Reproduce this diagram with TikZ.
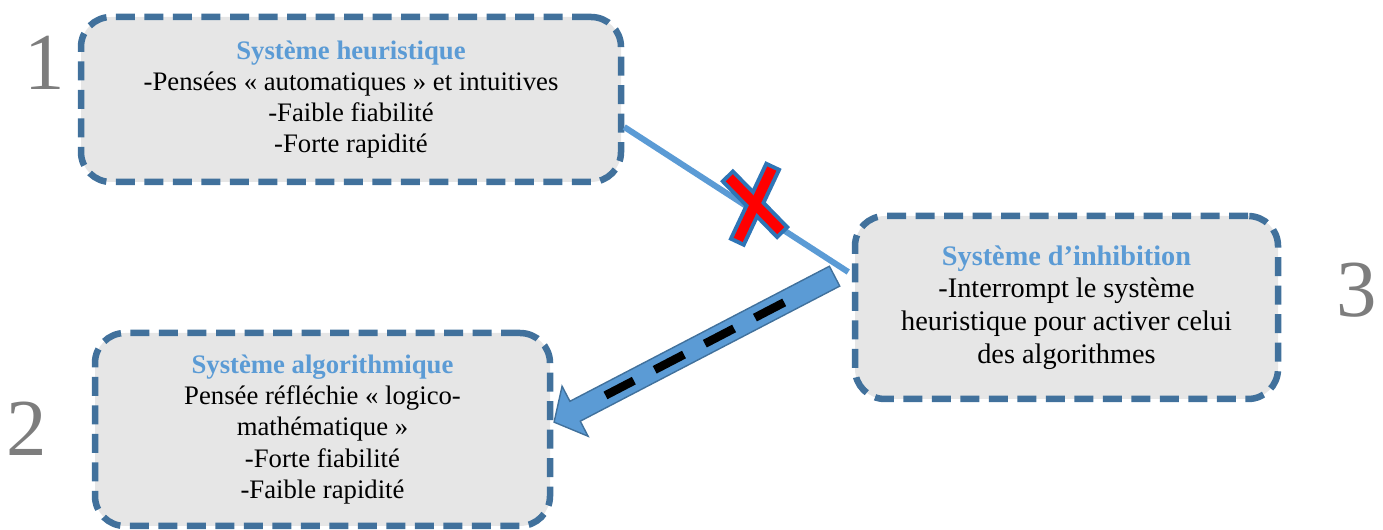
\documentclass[tikz,border=0pt]{standalone}
\usepackage{fontspec}
\setmainfont{Liberation Serif}
\usepackage{xcolor}
\usepackage{tikz}
\usetikzlibrary{shapes.arrows}
\usetikzlibrary{calc}

\definecolor{boxline}{RGB}{65,113,156}
\definecolor{boxfill}{RGB}{230,230,230}
\definecolor{titleblue}{RGB}{91,155,213}
\definecolor{crossline}{RGB}{46,117,182}
\definecolor{numgray}{RGB}{125,125,125}

\tikzset{
    sysbox/.style = {draw = boxline, fill = boxfill, line width = 0.13cm,
        dash pattern = on 0.38cm off 0.19cm, rounded corners = 0.6cm,
        align = center, inner sep = 0pt, font = \fontsize{15.2}{17.8}\selectfont},
    bigbox/.style = {sysbox, font = \fontsize{16.1}{18.6}\selectfont},
    sysnum/.style = {text = numgray, inner sep = 0pt, font = \fontsize{46}{46}\selectfont},
    flowarrow/.style = {single arrow, draw = boxline, fill = titleblue, line width = 0.8pt,
        inner sep = 0.21cm, single arrow head extend = 0.34cm,
        single arrow tip angle = 100, single arrow head indent = 0pt},
}
\newcommand{\systitle}[1]{{\bfseries\color{titleblue}#1}}

\begin{document}
\begin{tikzpicture}
        \useasboundingbox (0, 0) rectangle (27.66, 10.6);

        \node [sysbox, minimum width = 10.8cm, minimum height = 3.3cm] (heur) at (7.02, 8.61)
            {\systitle{Système heuristique}\\-Pensées « automatiques » et intuitives\\-Faible fiabilité\\-Forte rapidité};
        \node [sysbox, minimum width = 9.1cm, minimum height = 3.86cm] (algo) at (6.45, 2.01)
            {\systitle{Système algorithmique}\\Pensée réfléchie « logico-\\mathématique »\\-Forte fiabilité\\-Faible rapidité};
        \node [bigbox, minimum width = 8.46cm, minimum height = 3.66cm] (inhib) at (21.33, 4.45)
            {\systitle{Système d’inhibition}\\-Interrompt le système\\heuristique pour activer celui\\des algorithmes};

        \node [sysnum] (n1) at (0.9, 9.34) {1};
        \node [sysnum] (n2) at (0.54, 2.02) {2};
        \node [sysnum] (n3) at (27.14, 4.8) {3};

        % blocked link
        \coordinate (hOut) at ([yshift = -0.55cm]heur.east);
        \coordinate (iIn) at ([xshift = -0.07cm, yshift = 0.71cm]inhib.west);
        \draw [titleblue, line width = 0.12cm] (hOut) -- (iIn);

        \coordinate (xc) at (15.1, 6.5);
        \draw [crossline, line width = 0.36cm]
            ($(xc) + (-0.57, 0.6)$) -- ($(xc) + (0.57, -0.57)$)
            ($(xc) + (0.37, 0.8)$) -- ($(xc) + (-0.37, -0.77)$);
        \draw [red, line width = 0.2cm, shorten < = 0.08cm, shorten > = 0.08cm]
            ($(xc) + (-0.57, 0.6)$) -- ($(xc) + (0.57, -0.57)$);
        \draw [red, line width = 0.2cm, shorten < = 0.08cm, shorten > = 0.08cm]
            ($(xc) + (0.37, 0.8)$) -- ($(xc) + (-0.37, -0.77)$);

        % inhibition to algorithmic
        \coordinate (iOut) at ([xshift = -0.26cm, yshift = 0.67cm]inhib.west);
        \coordinate (aIn) at ([xshift = 0.1cm, yshift = 0.19cm]algo.east);
        \path let \p1 = ($(aIn) - (iOut)$), \n1 = {atan2(\y1, \x1)}, \n2 = {veclen(\x1, \y1)} in
            node [flowarrow, rotate = \n1, minimum height = \n2] (flow) at ($(iOut)!0.5!(aIn)$) {};
        \draw [black, line width = 0.17cm, dash pattern = on 0.66cm off 0.47cm]
            ($(iOut)!1.23cm!(aIn)$) -- ($(iOut)!5.26cm!(aIn)$);
    \end{tikzpicture}
\end{document}
